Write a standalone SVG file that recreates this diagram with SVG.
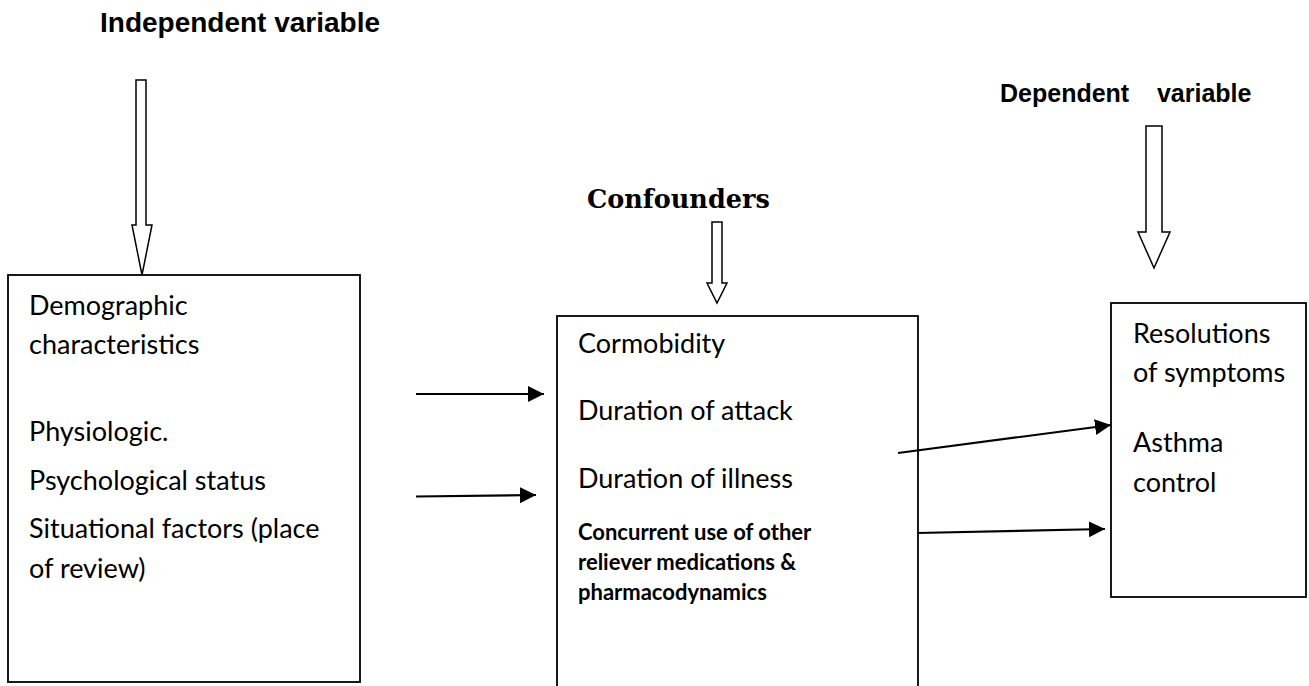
<svg xmlns="http://www.w3.org/2000/svg" width="1309" height="686" viewBox="0 0 1309 686">
<defs>
<marker id="ah" markerWidth="17" markerHeight="17" refX="16" refY="8" orient="auto" markerUnits="userSpaceOnUse">
<path d="M0,0 L16,8 L0,16 Z" fill="#000"/>
</marker>
</defs>
<style>
.box{fill:#fff;stroke:#000;stroke-width:1.8}
.blk{fill:#fff;stroke:#000;stroke-width:1.5}
.t{font-family:Lato,"Liberation Sans",sans-serif;font-size:27px;fill:#000}
.tb{font-family:Lato,"Liberation Sans",sans-serif;font-size:22px;font-weight:bold;fill:#000}
.h{font-family:"Liberation Sans",Arial,sans-serif;font-weight:bold;fill:#000}
.hs{font-family:"DejaVu Serif","Liberation Serif",serif;font-weight:bold;font-size:25.5px;fill:#000}
.ln{stroke:#000;stroke-width:2.2;fill:none}
</style>
<rect width="1309" height="686" fill="#fff"/>

<g id="title-independent">
<text class="h" x="100" y="32" font-size="28">Independent variable</text>
<polygon class="blk" points="136,80 146,80 146,225 152,225 142,275 132,225 136,225"/>
</g>

<g id="title-confounders">
<text class="hs" x="587" y="208">Confounders</text>
<polygon class="blk" points="712,222 722,222 722,283 727,283 717,303 707,283 712,283"/>
</g>

<g id="title-dependent">
<text class="h" x="1000" y="102" font-size="25" xml:space="preserve">Dependent    variable</text>
<polygon class="blk" points="1146,126 1162,126 1162,232 1170,232 1154,268 1138,232 1146,232"/>
</g>

<g id="node-independent">
<rect class="box" x="8" y="275" width="352" height="407"/>
<text class="t" x="29" y="315">Demographic</text>
<text class="t" x="29" y="354">characteristics</text>
<text class="t" x="29" y="441">Physiologic.</text>
<text class="t" x="29" y="490">Psychological status</text>
<text class="t" x="29" y="538">Situational factors (place</text>
<text class="t" x="29" y="578">of review)</text>
</g>

<g id="node-confounders">
<rect class="box" x="557" y="316" width="361" height="380"/>
<text class="t" x="578" y="353">Cormobidity</text>
<text class="t" x="578" y="420">Duration of attack</text>
<text class="t" x="578" y="488">Duration of illness</text>
<text class="tb" x="578" y="540">Concurrent use of other</text>
<text class="tb" x="578" y="570">reliever medications &amp;</text>
<text class="tb" x="578" y="600">pharmacodynamics</text>
</g>

<g id="node-dependent">
<rect class="box" x="1111" y="303" width="195" height="294"/>
<text class="t" x="1133" y="343">Resolutions</text>
<text class="t" x="1133" y="382">of symptoms</text>
<text class="t" x="1133" y="452">Asthma</text>
<text class="t" x="1133" y="492">control</text>
</g>

<g id="connectors">
<line class="ln" x1="416" y1="394" x2="544" y2="394" marker-end="url(#ah)"/>
<line class="ln" x1="416" y1="496.5" x2="536" y2="495" marker-end="url(#ah)"/>
<line class="ln" x1="898" y1="453" x2="1111" y2="425" marker-end="url(#ah)"/>
<line class="ln" x1="917" y1="533" x2="1105" y2="529" marker-end="url(#ah)"/>
</g>
</svg>
